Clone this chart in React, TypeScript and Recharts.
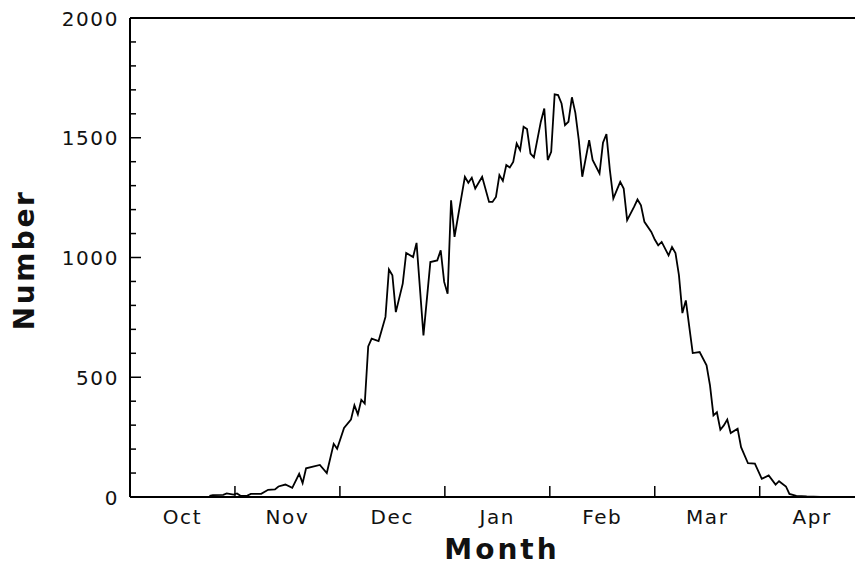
import React from 'react';
import { LineChart, Line, XAxis, YAxis, ReferenceLine } from 'recharts';

// Day index counted from 1 October (months drawn as equal 30.4-day spans)
const days = [23,24,27,28,30,31,32,34,35,38,40,42,43,45,47,49,50,51,53,55,57,59,60,62,64,65,66,67,68,69,70,72,74,75,76,77,79,80,82,83,85,87,89,90,91,92,93,94,97,98,99,100,102,104,105,106,107,108,109,110,111,112,113,114,115,116,117,119,120,121,122,123,124,125,126,127,128,129,130,131,133,134,136,137,138,139,140,141,142,143,144,146,147,148,149,151,152,153,154,156,157,158,159,160,161,162,163,165,167,168,169,170,171,172,173,174,176,177,179,181,183,185,187,188,190,191,193,196,200,206];
const counts = [5,8,9,15,10,15,5,6,13,13,30,32,44,52,38,97,58,120,127,134,100,222,201,288,323,383,345,406,390,629,661,651,752,950,926,772,891,1019,1002,1061,675,981,988,1030,898,849,1239,1086,1337,1312,1333,1288,1337,1232,1232,1253,1344,1320,1386,1376,1399,1476,1448,1546,1536,1434,1418,1567,1622,1407,1441,1681,1678,1643,1553,1567,1669,1604,1490,1337,1490,1407,1351,1479,1515,1365,1246,1281,1316,1288,1156,1211,1242,1218,1149,1107,1075,1051,1065,1009,1044,1019,926,768,821,710,601,605,550,466,341,354,281,299,323,267,285,208,141,139,76,90,52,66,44,13,5,2,0,0];

const monthLabels = ['Oct', 'Nov', 'Dec', 'Jan', 'Feb', 'Mar', 'Apr'];
const MONTH_LEN = 30.4;
const yTicks = Array.from({ length: 21 }, (_, i) => i * 100);

const data = days.map((d, i) => ({ day: d, count: counts[i] }));

const boundaryTicks = monthLabels.slice(1).map((_, i) => (i + 1) * MONTH_LEN);
const labelTicks = monthLabels.map((_, i) => (i + 0.5) * MONTH_LEN);
const xTicks = [...boundaryTicks, ...labelTicks].sort((a, b) => a - b);

const FONT = '"DejaVu Sans", sans-serif';

const YTick = (props: any) => {
  const { x, y, payload } = props;
  const v = payload.value;
  const major = v % 500 === 0;
  return (
    <g>
      <line x1={x} x2={x + (major ? 11 : 6)} y1={y} y2={y} stroke="#000" strokeWidth={1.5} />
      {major && (
        <text x={x - 11} y={y + 7.5} textAnchor="end" fontFamily={FONT} fontSize={20} letterSpacing={1.6} fill="#111">
          {v}
        </text>
      )}
    </g>
  );
};

const XTick = (props: any) => {
  const { x, y, payload } = props;
  const v = payload.value;
  const r = v / MONTH_LEN;
  const isBoundary = Math.abs(r - Math.round(r)) < 1e-6;
  if (isBoundary) {
    return <line x1={x} x2={x} y1={y} y2={y - 11} stroke="#000" strokeWidth={1.5} />;
  }
  const idx = Math.floor(r);
  return (
    <text x={x} y={y + 26.5} textAnchor="middle" fontFamily={FONT} fontSize={20} letterSpacing={1.6} fill="#111">
      {monthLabels[idx]}
    </text>
  );
};

export default function App() {
  return (
    <div style={{ position: 'absolute', left: 0, top: 0, width: 857, height: 567, background: '#fff' }}>
      <LineChart width={857} height={567} data={data} margin={{ top: 18, right: 2, left: 0, bottom: 0 }}>
        <XAxis
          dataKey="day"
          type="number"
          domain={[0, 210]}
          ticks={xTicks}
          interval={0}
          tick={<XTick />}
          tickLine={false}
          tickSize={0}
          tickMargin={0}
          height={70}
          axisLine={{ stroke: '#000', strokeWidth: 2 }}
          allowDataOverflow
        />
        <YAxis
          type="number"
          domain={[0, 2000]}
          ticks={yTicks}
          interval={0}
          tick={<YTick />}
          tickLine={false}
          tickSize={0}
          tickMargin={0}
          width={130}
          axisLine={{ stroke: '#000', strokeWidth: 2 }}
        />
        <ReferenceLine y={2000} stroke="#000" strokeWidth={2} />
        <Line
          type="linear"
          dataKey="count"
          stroke="#000"
          strokeWidth={1.8}
          dot={false}
          isAnimationActive={false}
        />
        <text x={34} y={260} transform="rotate(-90 34 260)" textAnchor="middle" fontFamily={FONT} fontWeight="bold" fontSize={28} letterSpacing={2.5} fill="#111">
          Number
        </text>
        <text x={502} y={559} textAnchor="middle" fontFamily={FONT} fontWeight="bold" fontSize={28} letterSpacing={3} fill="#111">
          Month
        </text>
      </LineChart>
    </div>
  );
}
